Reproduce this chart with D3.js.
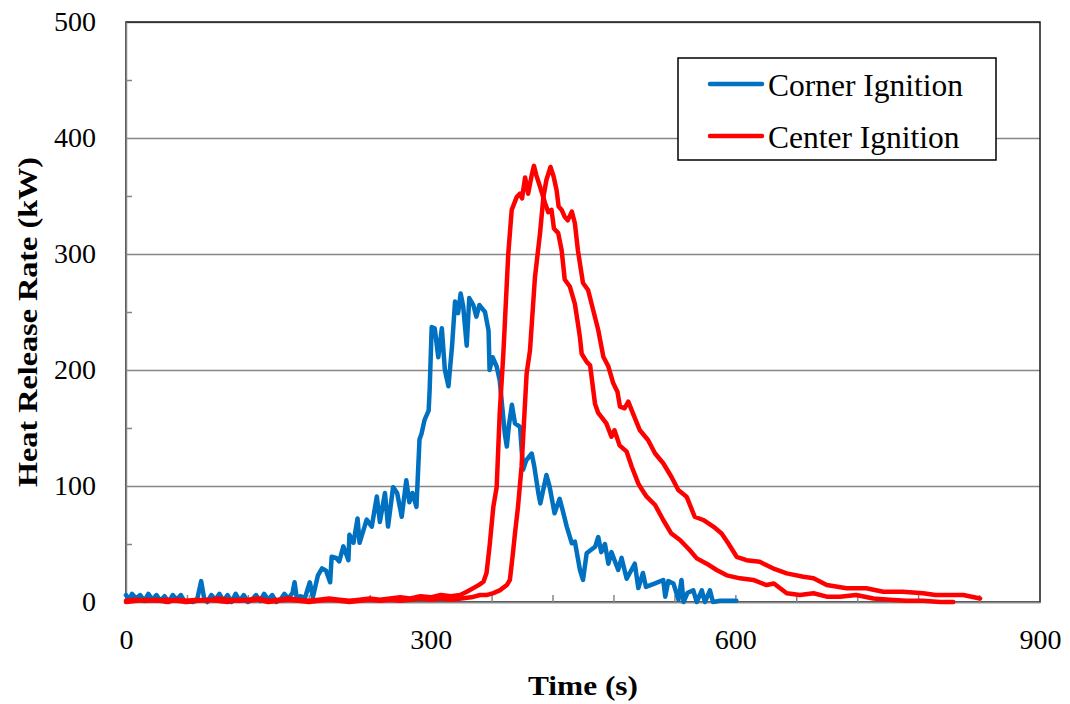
<!DOCTYPE html>
<html>
<head>
<meta charset="utf-8">
<script src="https://cdn.jsdelivr.net/npm/d3@7"></script>
<style>
  body { margin: 0; background: #fff; }
  text { font-family: "Liberation Serif", "Times New Roman", serif; }
</style>
</head>
<body>
<div id="chart"></div>
<script>
// Corner ignition test, [time s, HRR kW]
const cornerIgnition = [
  [0,6],[3,2],[6,7],[10,3],[14,6],[18,1],[22,7],[26,2],[30,6],[34,1],[38,5],[42,0],[46,6],[50,2],
  [54,6],[58,0],[62,1],[66,0],[70,2],[74,18],[77,3],[80,0],[84,6],[88,2],[92,7],[96,1],[100,6],
  [104,0],[108,7],[112,1],[116,6],[120,0],[124,2],[128,6],[132,1],[136,7],[140,2],[144,6],[148,0],
  [152,2],[156,7],[160,3],[164,8],[166,17],[168,4],[172,5],[176,3],[181,17],[184,4],[189,23],
  [193,29],[197,27],[201,17],[202.5,39],[207,38],[210,35],[214,48],[219,36],[220,58],[224,51],
  [228,72],[230,51],[237,71],[242,65],[247,91],[250,69],[255,94],[258,65],[263,99],[267,94],
  [271.5,73.5],[276,105],[279,86],[282,94],[286,82],[289,140],[291,145],[294,157],[298,165],
  [299,183],[301,237],[304,236],[307.5,211],[311,236],[314,200],[317.5,186],[321,220],[324,259],
  [327,249],[329.5,266],[332,255],[335.5,221],[338,262],[342,256],[345,246],[348,256],[353.5,250],
  [357,234],[358,200],[361,211],[365,203],[368,191],[373,145],[375,134],[377,152],[380,170],
  [383,154],[388,151],[391,114],[394,122],[399.5,128],[402,117],[406,94],[408,85],[414,109.5],
  [417,100],[422,76.5],[427,89],[430,79],[434,65],[439,50.6],[442,52],[447,27.6],[450,19],
  [453.6,42],[458,45],[462,47.7],[465,56],[468,43],[471.6,50],[475,33],[478,43],[484.7,27.6],
  [488,38],[493,20],[501,33],[504.5,12],[509,25],[512,13],[521,16],[529,19],[531,4.6],[534,18],
  [539,16],[544,2],[547,19],[549,0],[553,8],[558.6,10],[562,0],[567,10],[570,0],[575,10],[578,0],
  [585,1],[601,1]
];

// Center ignition, first test
const centerIgnitionA = [
  [0,1],[10,2],[20,1],[30,2],[40,0],[50,2],[60,1],[70,2],[80,1],[90,3],[100,2],[110,1],[120,2],
  [130,3],[140,1],[150,2],[160,3],[170,2],[180,1],[190,2],[200,3],[210,2],[220,1],[230,2],[240,3],
  [250,2],[260,3],[270,4],[280,3],[290,5],[300,4],[310,6],[320,5],[329,6],[336,9],[342,12],
  [348,15],[352,17.5],[355,25],[358,48],[361.7,82],[365,99],[368,163],[371.5,213],[376.4,300],
  [379.8,338],[384.7,349],[388,352],[390,348],[393,366],[396,352],[399.5,368],[401.7,376],
  [404,368],[407.7,358],[412.6,344],[415.8,336],[419,338],[421.4,322],[425.6,318],[429,303],
  [432,278],[437,272],[442,257],[445,240],[447,228],[448.7,214],[453.6,207],[457,204],[461.8,171],
  [465,163],[473,154],[478,142.5],[481,148],[486,135],[493,129.6],[498,116.6],[504.5,102],[508,97],
  [512.7,90.8],[521,83.6],[529,70.7],[537,59],[545.5,53.4],[555,44.8],[562,37.6],[571.8,33],
  [581.6,27.6],[591.5,23],[604.6,20.4],[617.7,19],[630.8,14.6],[638,16],[650.6,7.5],[663.6,6],
  [677,7.5],[690,4.6],[703,4.6],[719,6],[736,3],[752,2],[768.7,1],[785,1],[801.5,0],[814.6,0]
];

// Center ignition, second test
const centerIgnitionB = [
  [0,0],[10,1],[20,2],[30,1],[40,2],[50,1],[60,0],[70,1],[80,2],[90,1],[100,0],[110,2],[120,1],
  [130,2],[140,0],[150,1],[160,2],[170,1],[180,0],[190,1],[200,2],[210,1],[220,0],[230,1],[240,2],
  [250,1],[260,2],[270,1],[280,2],[290,3],[300,2],[310,3],[320,2],[330,3],[340,4],[348.6,6],
  [355,6],[361.7,7.7],[368,10],[375,14.6],[378,19],[381,42],[383,59],[386,82],[389.5,116.6],
  [394.5,197],[397.8,217],[402.7,280],[407.7,318],[411,349],[414,364],[418,375],[421,367],
  [424,355],[426,341],[429,338],[432,332],[435,329],[439,336.5],[442,326.5],[445,303],[450,275],
  [455,269],[460,251.7],[465,234.5],[470,211.5],[475,203],[479.8,188.5],[484,181],[486.4,168.4],
  [491,167],[494.6,172.7],[499,163],[506,148],[514,139.7],[521,128],[529,119.6],[537,108],
  [543.8,96.6],[552,90.8],[560,73.5],[568.4,70.7],[578.3,65],[586.5,59],[593,50.6],[601.3,39],
  [611,36],[624,34.7],[637,29],[650.6,24.7],[667,21.8],[677,20.4],[690,14.6],[709.6,11.8],
  [729,11.8],[745.7,8.9],[764.7,8.9],[785,7.5],[797,6],[808,6],[824.5,6],[841,3]
];

const xTicks = [0, 300, 600, 900];
const xMinorTicks = d3.range(60, 900, 60);
const yTicks = [0, 100, 200, 300, 400, 500];
const yMinorTicks = [50, 150, 250, 350, 450];

const series = [
  { label: "Corner Ignition", color: "#0070C0", data: cornerIgnition },
  { label: "Center Ignition", color: "#FF0000", data: centerIgnitionA },
  { label: "Center Ignition", color: "#FF0000", data: centerIgnitionB }
];
const legendItems = [
  { label: "Corner Ignition", color: "#0070C0" },
  { label: "Center Ignition", color: "#FF0000" }
];

const totalWidth = 1070;
const totalHeight = 704;
const margin = { top: 22, right: 30, bottom: 102, left: 126 };
const width = totalWidth - margin.left - margin.right;
const height = totalHeight - margin.top - margin.bottom;

const svg = d3.select("#chart").append("svg")
  .attr("width", totalWidth)
  .attr("height", totalHeight);

const g = svg.append("g")
  .attr("transform", `translate(${margin.left},${margin.top})`);

const x = d3.scaleLinear().domain([0, 900]).range([0, width]);
const y = d3.scaleLinear().domain([0, 500]).range([height, 0]);

// gridlines
g.append("g")
  .attr("class", "grid")
  .call(d3.axisLeft(y).tickValues(yTicks).tickSize(-width).tickFormat(""))
  .call((s) => s.select(".domain").remove())
  .call((s) => s.selectAll("line").attr("stroke", "#868686").attr("stroke-width", 1.5));

// plot area border
g.append("rect")
  .attr("width", width)
  .attr("height", height)
  .attr("fill", "none")
  .attr("stroke", "#1a1a1a")
  .attr("stroke-width", 1.5);

// minor ticks (inside)
g.append("g")
  .call(d3.axisRight(y).tickValues(yMinorTicks).tickSize(6).tickFormat(""))
  .call((s) => s.select(".domain").remove())
  .call((s) => s.selectAll("line").attr("stroke", "#868686").attr("stroke-width", 1.5));

g.append("g")
  .attr("transform", `translate(0,${height})`)
  .call(d3.axisTop(x).tickValues(xMinorTicks).tickSize(7).tickFormat(""))
  .call((s) => s.select(".domain").remove())
  .call((s) => s.selectAll("line").attr("stroke", "#868686").attr("stroke-width", 1.5));

// axis lines + labels
g.append("g")
  .attr("class", "y axis")
  .call(d3.axisLeft(y).tickValues(yTicks).tickSize(0).tickPadding(30))
  .call((s) => s.select(".domain").attr("stroke", "#868686").attr("stroke-width", 1.5))
  .call((s) => s.selectAll("text")
    .attr("font-family", "Liberation Serif, Times New Roman, serif")
    .attr("font-size", 28).attr("fill", "#000"));

g.append("g")
  .attr("class", "x axis")
  .attr("transform", `translate(0,${height})`)
  .call(d3.axisBottom(x).tickValues(xTicks).tickSize(0).tickPadding(27))
  .call((s) => s.select(".domain").attr("stroke", "#868686").attr("stroke-width", 1.5))
  .call((s) => s.selectAll("text")
    .attr("font-family", "Liberation Serif, Times New Roman, serif")
    .attr("font-size", 28).attr("fill", "#000"));

// lines
const line = d3.line()
  .x((d) => x(d[0]))
  .y((d) => y(d[1]));

g.append("g")
  .selectAll("path")
  .data(series)
  .join("path")
  .attr("fill", "none")
  .attr("stroke", (d) => d.color)
  .attr("stroke-width", 4.5)
  .attr("stroke-linejoin", "round")
  .attr("stroke-linecap", "round")
  .attr("d", (d) => line(d.data));

// axis titles
svg.append("text")
  .attr("x", margin.left + width / 2)
  .attr("y", 695)
  .attr("text-anchor", "middle")
  .attr("font-size", 28)
  .attr("font-weight", "bold")
  .attr("textLength", 110)
  .attr("lengthAdjust", "spacingAndGlyphs")
  .text("Time (s)");

svg.append("text")
  .attr("transform", `translate(37,${margin.top + height / 2 + 10}) rotate(-90)`)
  .attr("text-anchor", "middle")
  .attr("font-size", 28)
  .attr("font-weight", "bold")
  .attr("textLength", 330)
  .attr("lengthAdjust", "spacingAndGlyphs")
  .text("Heat Release Rate (kW)");

// legend
const legend = svg.append("g").attr("class", "legend");
legend.append("rect")
  .attr("x", 678).attr("y", 58)
  .attr("width", 318).attr("height", 102)
  .attr("fill", "#fff")
  .attr("stroke", "#000")
  .attr("stroke-width", 1.5);

const items = legend.selectAll(".item")
  .data(legendItems)
  .join("g")
  .attr("class", "item")
  .attr("transform", (d, i) => `translate(710,${84 + i * 52})`);

items.append("line")
  .attr("x1", 0).attr("x2", 52)
  .attr("stroke", (d) => d.color)
  .attr("stroke-width", 4.5)
  .attr("stroke-linecap", "round");

items.append("text")
  .attr("x", 58)
  .attr("y", 12)
  .attr("font-size", 31.5)
  .attr("fill", "#000")
  .text((d) => d.label);
</script>
</body>
</html>
